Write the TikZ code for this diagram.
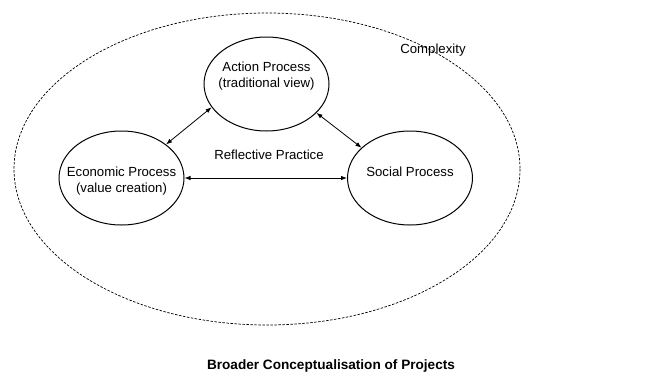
\documentclass[tikz,border=0pt]{standalone}
\usepackage{fontspec}
\setmainfont{Liberation Sans}
\usetikzlibrary{arrows.meta,shapes.geometric}
\begin{document}
\begin{tikzpicture}[x=1pt,y=-1pt,
  proc/.style={draw,line width=1pt,ellipse,minimum width=125pt,minimum height=94pt,inner sep=0pt},
  lbl/.style={font=\fontsize{13.2}{16.5}\selectfont,inner sep=0pt,align=center},
  link/.style={line width=0.8pt,{Latex[length=6pt,width=4.5pt]}-{Latex[length=6pt,width=4.5pt]}}]
\useasboundingbox (0,0) rectangle (663,378);
\draw[dashed,line width=0.7pt,dash pattern=on 2.5pt off 1.5pt] (267,169) ellipse [x radius=253, y radius=156];
\node[proc,label={[lbl,yshift=8pt]center:{Action Process\\(traditional view)}}] (act) at (266.5,84) {};
\node[proc,label={[lbl,yshift=-3pt]center:{Economic Process\\(value creation)}}] (eco) at (121.5,178) {};
\node[proc,label={[lbl,yshift=6pt]center:{Social Process}}] (soc) at (410,178) {};
\node[lbl] (cx) at (433,50) {Complexity};
\node[lbl] (rp) at (269,155) {Reflective Practice};
\node[lbl,font=\fontsize{13.6}{15.5}\selectfont\bfseries] (title) at (331,366) {Broader Conceptualisation of Projects};
\draw[link] (eco.east) -- (soc.west);
\draw[link] (eco.37.6) -- (act.203.8);
\draw[link] (act.-30.4) -- (soc.148.5);
\end{tikzpicture}
\end{document}
